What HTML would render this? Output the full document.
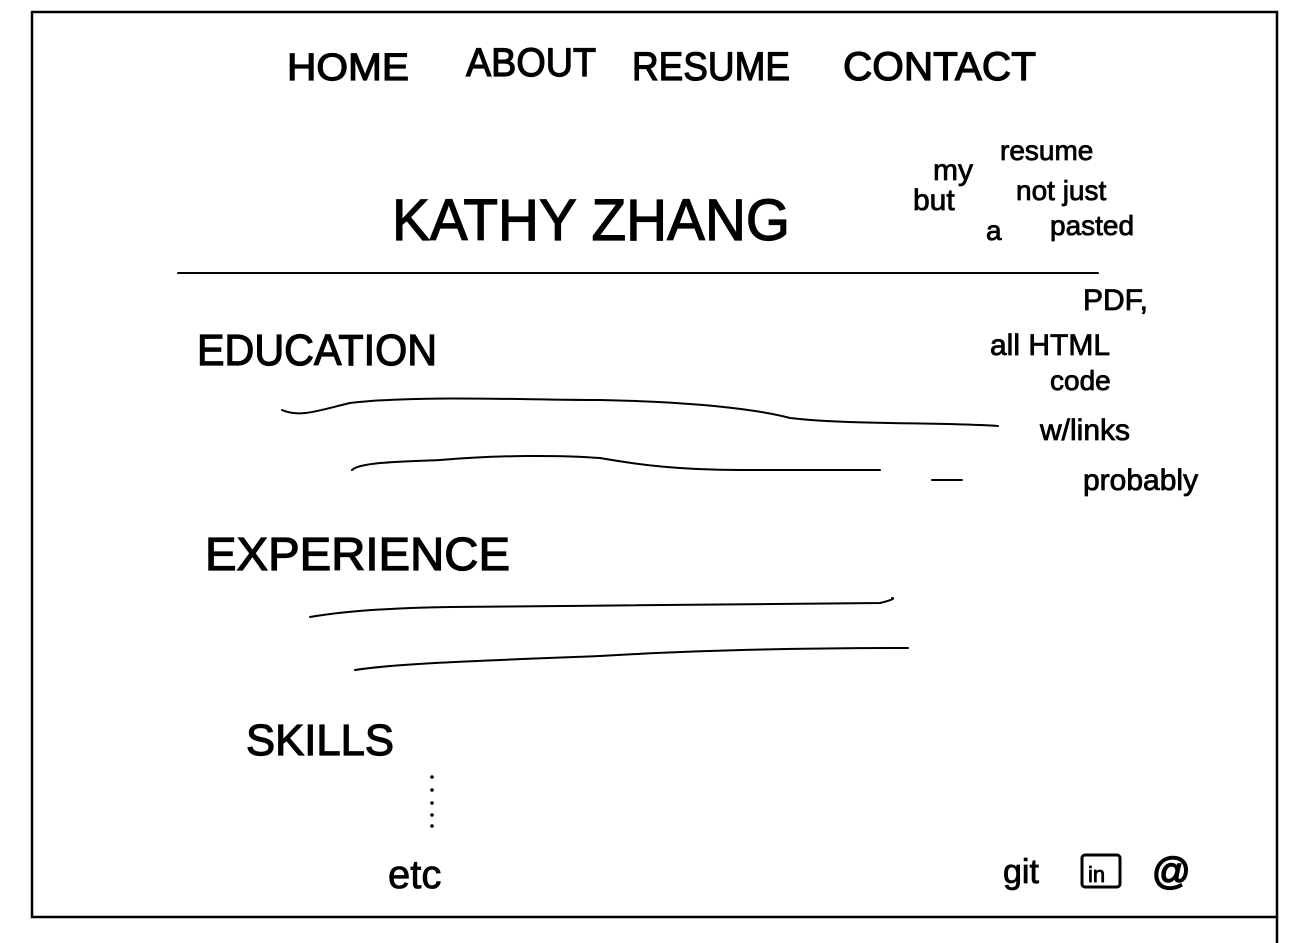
<!DOCTYPE html>
<html><head><meta charset="utf-8"><style>
html,body{margin:0;padding:0;background:#fff;width:1291px;height:943px;overflow:hidden}
text{font-family:"Liberation Sans",sans-serif;fill:#000}
</style></head><body>
<svg width="1291" height="943" viewBox="0 0 1291 943" xmlns="http://www.w3.org/2000/svg">
<g fill="none" stroke="#000" stroke-width="2.5" stroke-linecap="round">
<path d="M32 12 H1277 V943"/>
<path d="M32 12 V917 H1277"/>
<path d="M178 273 H1098" stroke-width="2"/>
<path d="M282 410 C300 418 320 410 350 403 C420 395 520 400 600 400 C700 402 760 410 790 418 C850 425 940 422 998 426" stroke-width="2"/>
<path d="M352 470 C360 462 400 462 440 460 C500 455 560 455 600 458 C640 465 680 470 740 470 L880 470" stroke-width="2"/>
<path d="M932 480 H962" stroke-width="2"/>
<path d="M310 617 C340 612 380 608 450 607 C600 606 800 603 880 603 C893 600 895 598 892 598" stroke-width="2"/>
<path d="M355 670 C400 663 500 660 600 656 C700 650 800 648 908 648" stroke-width="2"/>
</g>
<g fill="#000">
<circle cx="432" cy="777" r="1.8"/><circle cx="432" cy="790" r="1.8"/><circle cx="432" cy="803" r="1.8"/><circle cx="432" cy="815" r="1.8"/><circle cx="432" cy="826" r="1.8"/>
</g>
<g stroke="#000" stroke-width="1.2">
<text x="287" y="80" font-size="38" textLength="122" lengthAdjust="spacingAndGlyphs">HOME</text>
<text x="466" y="76" font-size="40" textLength="130" lengthAdjust="spacingAndGlyphs">ABOUT</text>
<text x="632" y="80" font-size="40" textLength="158" lengthAdjust="spacingAndGlyphs">RESUME</text>
<text x="843" y="80" font-size="40" textLength="193" lengthAdjust="spacingAndGlyphs">CONTACT</text>
<text x="392" y="240" font-size="58" textLength="398" lengthAdjust="spacingAndGlyphs">KATHY ZHANG</text>
<text x="197" y="365" font-size="44" textLength="240" lengthAdjust="spacingAndGlyphs">EDUCATION</text>
<text x="205" y="570" font-size="46" textLength="305" lengthAdjust="spacingAndGlyphs">EXPERIENCE</text>
<text x="246" y="755" font-size="44" textLength="148" lengthAdjust="spacingAndGlyphs">SKILLS</text>
</g>
<g stroke="#000" stroke-width="0.8">
<text x="388" y="888" font-size="40">etc</text>
<text x="933" y="180" font-size="30">my</text>
<text x="1000" y="160" font-size="28">resume</text>
<text x="913" y="210" font-size="30">but</text>
<text x="1016" y="200" font-size="28">not just</text>
<text x="986" y="240" font-size="28">a</text>
<text x="1050" y="235" font-size="28">pasted</text>
<text x="1083" y="310" font-size="30">PDF,</text>
<text x="990" y="355" font-size="30">all HTML</text>
<text x="1050" y="390" font-size="28">code</text>
<text x="1040" y="440" font-size="30">w/links</text>
<text x="1083" y="490" font-size="30">probably</text>
<text x="1003" y="883" font-size="34">git</text>
</g>
<rect x="1082" y="855" width="38" height="32" rx="3" fill="none" stroke="#000" stroke-width="3"/>
<text x="1088" y="882" font-size="22" stroke="#000" stroke-width="0.8">in</text>
<text x="1152" y="884" font-size="38" stroke="#000" stroke-width="1.5">@</text>
</svg>
</body></html>
